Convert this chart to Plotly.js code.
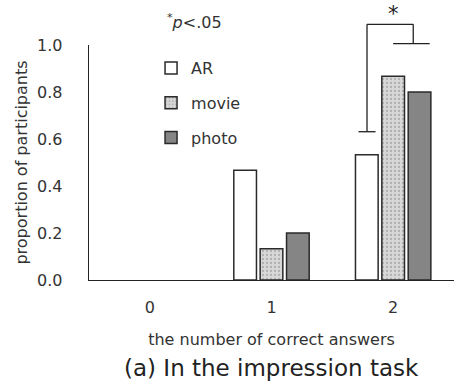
<!DOCTYPE html>
<html><head><meta charset="utf-8">
<script src="https://cdn.plot.ly/plotly-3.0.1.min.js"></script>
<style>html,body{margin:0;padding:0;background:#fff}#c{width:454px;height:383px}</style>
</head><body><div id="c"></div>
<script>
const categories = ['0', '1', '2'];
const arValues = [0, 0.467, 0.533];
const movieValues = [0, 0.133, 0.867];
const photoValues = [0, 0.2, 0.8];
const yTicks = [0, 0.2, 0.4, 0.6, 0.8, 1.0];

const F = '"DejaVu Sans", sans-serif';
const xs = [0, 1, 2];
// zero-height bars are not drawn in the reference
const drawn = vals => vals.map(v => v === 0 ? null : v);
const line = {color: '#2a2a2a', width: 1.5};

const traces = [
  {type: 'bar', name: 'AR', x: xs, y: drawn(arValues), legendgroup: 'a',
   marker: {color: '#ffffff', line: line}},
  {type: 'bar', name: 'movie', x: xs, y: drawn(movieValues), legendgroup: 'b',
   marker: {color: '#d4d4d4', line: line,
            pattern: {shape: '.', fgcolor: '#b0b0b0', bgcolor: '#d8d8d8', size: 4, solidity: 0.25}}},
  {type: 'bar', name: 'photo', x: xs, y: drawn(photoValues), legendgroup: 'c',
   marker: {color: '#858585', line: line}}
];

// significance bracket, positioned relative to category 2 (offsets in category units)
const c = 2;
const arX = c - 0.215, midX = c + 0.165;
const bk = {color: '#222', width: 1.3};
const shapes = [
  {type: 'line', xref: 'x', yref: 'paper', x0: arX, x1: arX, y0: 0.631, y1: 1.088, line: bk},
  {type: 'line', xref: 'x', yref: 'paper', x0: arX - 0.07, x1: arX + 0.07, y0: 0.631, y1: 0.631, line: bk},
  {type: 'line', xref: 'x', yref: 'paper', x0: arX, x1: midX, y0: 1.088, y1: 1.088, line: bk},
  {type: 'line', xref: 'x', yref: 'paper', x0: midX, x1: midX, y0: 1.088, y1: 1.006, line: bk},
  {type: 'line', xref: 'x', yref: 'paper', x0: c, x1: c + 0.30, y0: 1.006, y1: 1.006, line: bk}
];

const layout = {
  width: 454, height: 383,
  margin: {l: 89, r: 0, t: 45, b: 103},
  paper_bgcolor: '#fff', plot_bgcolor: '#fff',
  font: {family: F, color: '#333', size: 16},
  barmode: 'group', bargap: 0.35, bargroupgap: 0.14,
  showlegend: true,
  legend: {x: 0.17, y: 0.974, xanchor: 'left', yanchor: 'top', bgcolor: 'rgba(0,0,0,0)',
           font: {size: 16, color: '#333'}, tracegroupgap: 11, traceorder: 'grouped'},
  xaxis: {range: [-0.5, 2.5], tickvals: xs, ticktext: categories, showline: true,
          linecolor: '#222', linewidth: 1.3, ticks: '', ticklabelstandoff: 12,
          showgrid: false, zeroline: false, tickfont: {size: 16},
          title: {text: 'the number of correct answers', font: {size: 16, color: '#333'}, standoff: 18}},
  yaxis: {range: [0, 1], tickvals: yTicks, tickformat: '.1f', showline: true,
          linecolor: '#222', linewidth: 1.3, ticks: '', ticklabelstandoff: 22,
          showgrid: false, zeroline: false, tickfont: {size: 16},
          title: {text: 'proportion of participants', font: {size: 16, color: '#333'}, standoff: 5}},
  shapes: shapes,
  annotations: [
    {xref: 'paper', yref: 'paper', x: 0.5, y: -0.375, yanchor: 'middle', showarrow: false,
     text: '(a) In the impression task', font: {size: 23, color: '#222'}},
    {xref: 'paper', yref: 'paper', x: 0.208, y: 1.098, xanchor: 'left', yanchor: 'middle', showarrow: false,
     text: '<sup>*</sup><i>p</i>&lt;.05', font: {size: 16, color: '#333'}},
    {xref: 'x', yref: 'paper', x: c, y: 1.13, yanchor: 'middle', showarrow: false,
     text: '*', font: {size: 21, color: '#222'}}
  ]
};

Plotly.newPlot('c', traces, layout, {displayModeBar: false, staticPlot: true});
</script>
</body></html>
